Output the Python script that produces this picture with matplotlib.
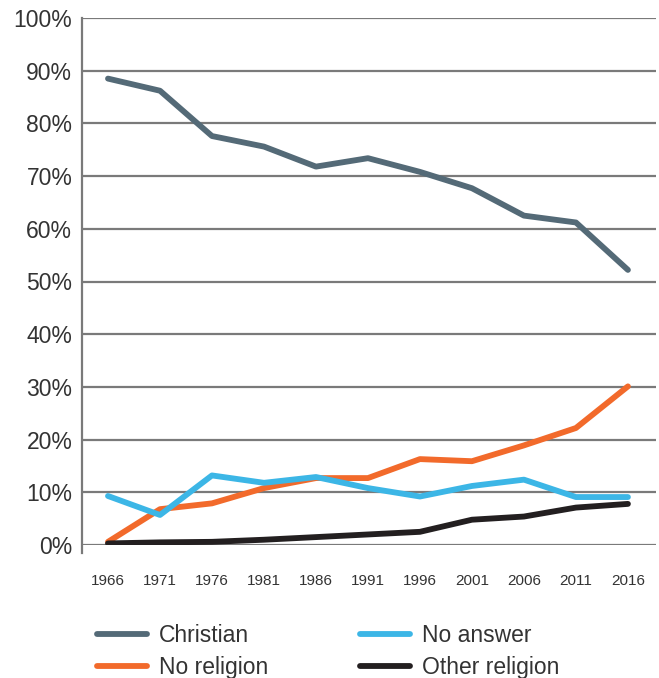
import matplotlib.pyplot as plt

years = [1966, 1971, 1976, 1981, 1986, 1991, 1996, 2001, 2006, 2011, 2016]
christian = [88.5, 86.2, 77.6, 75.6, 71.8, 73.4, 70.8, 67.7, 62.5, 61.2, 52.2]
no_religion = [0.6, 6.8, 7.9, 10.8, 12.7, 12.7, 16.3, 15.9, 18.9, 22.2, 30.1]
no_answer = [9.3, 5.7, 13.2, 11.8, 12.9, 10.8, 9.2, 11.2, 12.4, 9.1, 9.1]
other_religion = [0.3, 0.5, 0.6, 1.0, 1.5, 2.0, 2.5, 4.8, 5.4, 7.1, 7.8]
y_ticks = list(range(0, 101, 10))

plt.rcParams['font.family'] = ['Liberation Sans', 'DejaVu Sans']

fig = plt.figure(figsize=(6.59, 6.78), dpi=100)
ax = fig.add_axes([82 / 659, 1 - 545 / 678, 574 / 659, 527 / 678])

lw = 4.2
ax.plot(years, christian, color='#546a77', lw=lw, label='Christian', solid_capstyle='round', zorder=3)
ax.plot(years, no_religion, color='#f26a2b', lw=lw, label='No religion', solid_capstyle='round', zorder=4)
ax.plot(years, no_answer, color='#3cb6e6', lw=lw, label='No answer', solid_capstyle='round', zorder=5)
ax.plot(years, other_religion, color='#231f20', lw=lw, label='Other religion', solid_capstyle='round', zorder=6)

ax.set_xlim(1963.5, 2018.7)
ax.set_ylim(0, 100)
ax.set_xticks(years)
ax.set_yticks(y_ticks)
ax.set_yticklabels([f'{v}%' for v in y_ticks])

for v in y_ticks:
    ax.axhline(v, color='#7a7a7a', lw=1.6, zorder=1)

for s in ['top', 'right', 'bottom']:
    ax.spines[s].set_visible(False)
ax.spines['left'].set_color('#7a7a7a')
ax.spines['left'].set_linewidth(1.6)
ax.spines['left'].set_bounds(-1.5, 100)

ax.tick_params(axis='y', length=0, pad=7, labelsize=16.5, labelcolor='#333333')
ax.tick_params(axis='x', length=0, pad=21, labelsize=11, labelcolor='#333333')

fig.legend(loc='upper left', bbox_to_anchor=(97 / 659, 1 - 624.5 / 678), ncol=2,
           frameon=False, fontsize=16.5, handlelength=2.2, handletextpad=0.5,
           columnspacing=4.0, labelspacing=0.38, labelcolor='#333333',
           borderpad=0, borderaxespad=0)

fig.savefig('out.png', dpi=100)
